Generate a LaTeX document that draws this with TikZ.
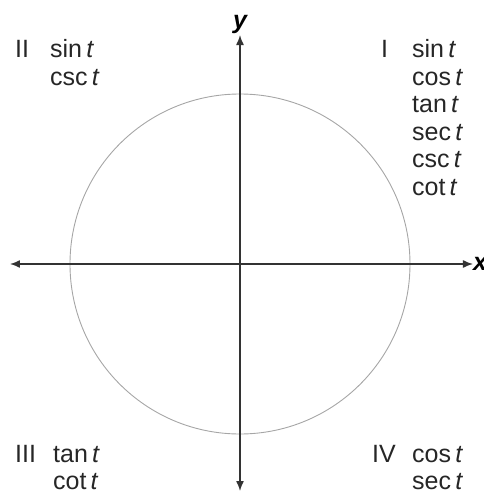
\documentclass[tikz,border=0pt]{standalone}
\usepackage{fontspec}
\setmainfont{Liberation Sans}
\usetikzlibrary{arrows.meta,positioning}

\begin{document}
\begin{tikzpicture}[
    x=1pt, y=1pt,
    axis/.style={-{Latex[length=10pt,width=8pt]}, line width=1.4pt, draw=black!80},
    unitcircle/.style={draw=black!35, line width=0.9pt},
    quad/.style={anchor=base west, inner sep=0pt, font=\fontsize{25}{27.5}\selectfont, text=black!85},
    funcs/.style={quad, align=left},
    axislabel/.style={inner sep=0pt, font=\fontsize{25}{27.5}\selectfont\bfseries\itshape},
]
    \useasboundingbox (-240,-227) rectangle (243,264);

    \draw[unitcircle] (0,0) circle (170);

    % axes
    \coordinate (o) at (0,0);
    \coordinate (xl) at (-230,0);
    \coordinate (xr) at (233,0);
    \coordinate (yb) at (0,-227);
    \coordinate (yt) at (0,229);
    \draw[axis] (o) -- (xr);
    \draw[axis] (o) -- (xl);
    \draw[axis] (o) -- (yt);
    \draw[axis] (o) -- (yb);
    \node[axislabel, anchor=west] (xlab) at (xr) {x};
    \node[axislabel, anchor=base] (ylab) at (0,236) {y};

    % quadrants (a list node sits on the baseline of its last line)
    \node[quad] (q1) at (141,206.3) {I};
    \node[funcs] (f1) at (172,68.8) {sin\,\textit{t}\\cos\,\textit{t}\\tan\,\textit{t}\\sec\,\textit{t}\\csc\,\textit{t}\\cot\,\textit{t}};
    \node[quad] (q2) at (-225,206.3) {II};
    \node[funcs] (f2) at (-190,178.8) {sin\,\textit{t}\\csc\,\textit{t}};
    \node[quad] (q3) at (-225,-198.3) {III};
    \node[funcs] (f3) at (-187,-225.8) {tan\,\textit{t}\\cot\,\textit{t}};
    \node[quad] (q4) at (132,-198.3) {IV};
    \node[funcs] (f4) at (172,-225.8) {cos\,\textit{t}\\sec\,\textit{t}};
\end{tikzpicture}
\end{document}
